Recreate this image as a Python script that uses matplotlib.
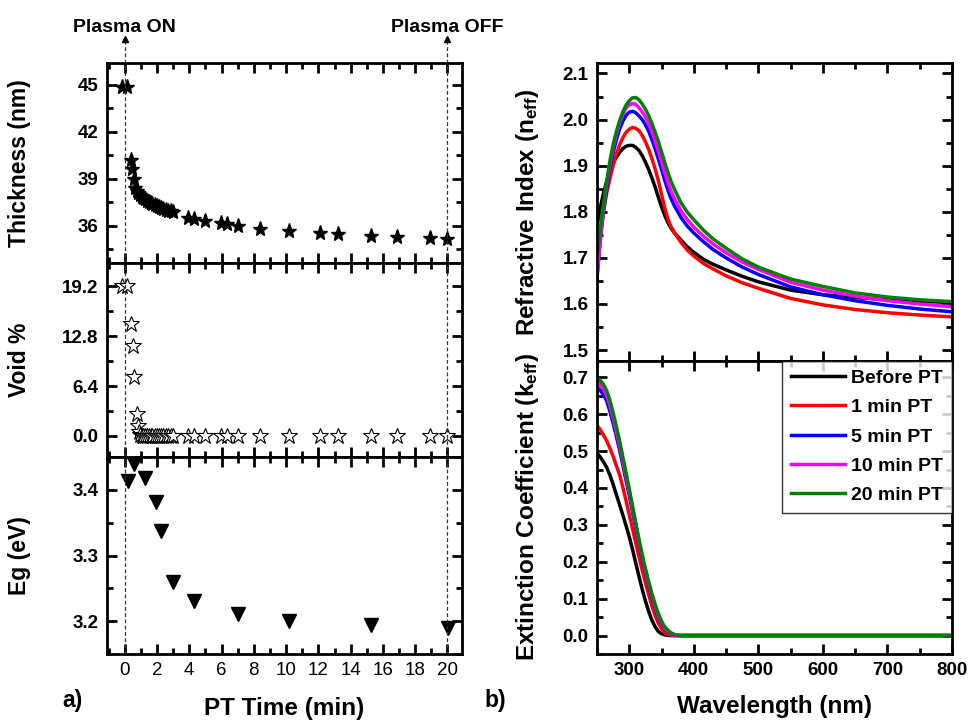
import matplotlib
matplotlib.use('Agg')
import matplotlib.pyplot as plt
from matplotlib.ticker import MultipleLocator, FormatStrFormatter
import matplotlib.transforms as mtransforms

plt.rcParams['font.family'] = ['Liberation Sans', 'DejaVu Sans']
plt.rcParams['font.weight'] = 'bold'
plt.rcParams['axes.labelweight'] = 'bold'
plt.rcParams['mathtext.fontset'] = 'custom'
plt.rcParams['mathtext.rm'] = 'Liberation Sans:bold'
plt.rcParams['mathtext.it'] = 'Liberation Sans:bold'

# --- (a) plasma treatment time series ---
t_thick = [-0.15, 0.15, 0.41, 0.47, 0.56, 0.65, 0.75, 0.85, 0.95, 1.05, 1.15, 1.25, 1.35,
           1.5, 1.6, 1.7, 1.85, 2.0, 2.1, 2.25, 2.4, 2.55, 2.7, 2.85, 3.0,
           3.92, 4.27, 5.0, 5.99, 6.34, 7.02, 8.36, 10.15, 12.07, 13.2, 15.25, 16.9, 18.9, 20.0]
thickness = [44.85, 44.85, 40.17, 39.64, 39.0, 38.4, 38.2, 38.05, 37.95, 37.85, 37.75, 37.7, 37.6,
             37.5, 37.45, 37.4, 37.3, 37.25, 37.2, 37.1, 37.05, 37.0, 36.95, 36.9, 36.85,
             36.51, 36.4, 36.3, 36.13, 36.09, 35.98, 35.79, 35.66, 35.49, 35.43, 35.36, 35.28, 35.21, 35.15]

t_void = [-0.15, 0.15, 0.41, 0.5, 0.6, 0.76, 0.8, 0.87, 0.95, 1.05, 1.15, 1.25, 1.35,
          1.5, 1.6, 1.7, 1.85, 2.0, 2.1, 2.25, 2.4, 2.55, 2.7, 2.85, 3.0,
          3.92, 4.27, 5.0, 5.99, 6.34, 7.02, 8.36, 10.15, 12.07, 13.2, 15.25, 16.9, 18.9, 20.0]
void = [19.3, 19.2, 14.4, 11.5, 7.63, 2.83, 1.29, 0.5, 0.1, 0.0, 0.0, 0.0, 0.0,
        0.0, 0.0, 0.0, 0.0, 0.0, 0.0, 0.0, 0.0, 0.0, 0.0, 0.0, 0.0,
        0.0, 0.0, 0.0, 0.0, 0.0, 0.0, 0.0, 0.0, 0.0, 0.0, 0.0, 0.0, 0.0, 0.0]

t_eg = [0.21, 0.6, 1.28, 1.94, 2.25, 2.97, 4.27, 7.0, 10.15, 15.25, 20.02]
eg = [3.414, 3.439, 3.418, 3.382, 3.337, 3.259, 3.230, 3.211, 3.201, 3.194, 3.190]

# --- (b) optical constants ---
wl_n = [250, 255, 260, 265, 270, 275, 280, 285, 290, 295, 300, 305, 310, 315, 320, 325,
        330, 335, 340, 345, 350, 355, 360, 365, 370, 380, 390, 400, 415, 430, 450, 475,
        500, 550, 600, 650, 700, 750, 800]
n_before = [1.770, 1.808, 1.840, 1.866, 1.888, 1.905, 1.918, 1.929, 1.937, 1.942, 1.944, 1.944,
            1.940, 1.933, 1.922, 1.908, 1.892, 1.874, 1.854, 1.832, 1.811, 1.792, 1.776, 1.764,
            1.754, 1.739, 1.724, 1.712, 1.697, 1.686, 1.674, 1.660, 1.648, 1.630, 1.620, 1.614,
            1.609, 1.606, 1.603]
n_1min = [1.690, 1.752, 1.800, 1.840, 1.872, 1.900, 1.925, 1.945, 1.960, 1.972, 1.979, 1.983,
          1.981, 1.976, 1.966, 1.952, 1.936, 1.916, 1.894, 1.868, 1.838, 1.808, 1.784, 1.767,
          1.755, 1.734, 1.717, 1.704, 1.688, 1.676, 1.661, 1.646, 1.634, 1.612, 1.598, 1.588,
          1.581, 1.576, 1.572]
n_5min = [1.655, 1.735, 1.800, 1.850, 1.893, 1.928, 1.956, 1.979, 1.996, 2.009, 2.016, 2.018,
          2.015, 2.008, 2.000, 1.989, 1.975, 1.957, 1.937, 1.915, 1.892, 1.868, 1.846, 1.828,
          1.813, 1.788, 1.769, 1.754, 1.735, 1.718, 1.700, 1.680, 1.664, 1.637, 1.620, 1.607,
          1.597, 1.589, 1.583]
n_10min = [1.658, 1.740, 1.807, 1.860, 1.902, 1.938, 1.968, 1.992, 2.011, 2.025, 2.032, 2.035,
           2.033, 2.026, 2.017, 2.006, 1.992, 1.974, 1.954, 1.932, 1.909, 1.885, 1.863, 1.844,
           1.829, 1.803, 1.783, 1.767, 1.747, 1.730, 1.711, 1.691, 1.675, 1.647, 1.630, 1.617,
           1.607, 1.600, 1.594]
n_20min = [1.700, 1.762, 1.815, 1.865, 1.910, 1.945, 1.974, 1.997, 2.016, 2.031, 2.041, 2.047,
           2.048, 2.043, 2.034, 2.023, 2.009, 1.992, 1.973, 1.953, 1.930, 1.907, 1.885, 1.865,
           1.849, 1.820, 1.799, 1.783, 1.760, 1.741, 1.721, 1.698, 1.680, 1.654, 1.638, 1.624,
           1.615, 1.609, 1.605]

wl_k = [250, 255, 260, 265, 270, 275, 280, 285, 290, 295, 300, 305, 310, 315, 320, 325,
        330, 335, 340, 345, 350, 355, 360, 365, 370, 375, 380, 390, 400, 500, 600, 700, 800]
k_before = [0.494, 0.484, 0.471, 0.456, 0.435, 0.410, 0.382, 0.355, 0.327, 0.298, 0.268, 0.234,
            0.197, 0.161, 0.126, 0.094, 0.066, 0.042, 0.024, 0.011, 0.005, 0.002, 0.0005, 0.0,
            0.0, 0.0, 0.0, 0.0, 0.0, 0.0, 0.0, 0.0, 0.0]
k_1min = [0.570, 0.558, 0.544, 0.528, 0.508, 0.486, 0.461, 0.436, 0.403, 0.366, 0.328, 0.290,
          0.252, 0.214, 0.178, 0.144, 0.112, 0.081, 0.055, 0.034, 0.018, 0.008, 0.003, 0.001,
          0.0, 0.0, 0.0, 0.0, 0.0, 0.0, 0.0, 0.0, 0.0]
k_5min = [0.673, 0.665, 0.653, 0.636, 0.608, 0.575, 0.540, 0.503, 0.463, 0.421, 0.380, 0.335,
          0.292, 0.250, 0.210, 0.172, 0.138, 0.105, 0.076, 0.051, 0.032, 0.019, 0.010, 0.005,
          0.002, 0.0005, 0.0, 0.0, 0.0, 0.0, 0.0, 0.0, 0.0]
k_10min = [0.688, 0.680, 0.668, 0.651, 0.624, 0.590, 0.553, 0.515, 0.475, 0.432, 0.389, 0.344,
           0.299, 0.256, 0.215, 0.177, 0.142, 0.110, 0.080, 0.055, 0.035, 0.021, 0.012, 0.006,
           0.002, 0.0005, 0.0, 0.0, 0.0, 0.0, 0.0, 0.0, 0.0]
k_20min = [0.698, 0.692, 0.681, 0.664, 0.638, 0.604, 0.567, 0.528, 0.485, 0.441, 0.398, 0.352,
           0.306, 0.262, 0.220, 0.182, 0.147, 0.114, 0.085, 0.060, 0.039, 0.024, 0.014, 0.007,
           0.003, 0.001, 0.0, 0.0, 0.0, 0.0, 0.0, 0.0, 0.0]

labels = ['Before PT', '1 min PT', '5 min PT', '10 min PT', '20 min PT']
colors = ['black', 'red', 'blue', 'magenta', 'green']

fig = plt.figure(figsize=(9.71, 7.27), dpi=100)

ax_t = fig.add_axes([0.1102, 0.6382, 0.3656, 0.2751])
ax_v = fig.add_axes([0.1102, 0.3714, 0.3656, 0.2668])
ax_e = fig.add_axes([0.1102, 0.1004, 0.3656, 0.2710])
ax_n = fig.add_axes([0.6148, 0.5039, 0.3656, 0.4090])
ax_k = fig.add_axes([0.6148, 0.1004, 0.3656, 0.4035])


def style(ax):
    for s in ax.spines.values():
        s.set_linewidth(2)
    ax.tick_params(which='both', direction='in', top=True, right=True, width=2)
    ax.tick_params(which='major', length=7, labelsize=13.5, pad=6)
    ax.tick_params(which='minor', length=4)


ax_t.plot(t_thick, thickness, linestyle='none', marker='*', color='black', markersize=11)
ax_v.plot(t_void, void, linestyle='none', marker='*', markerfacecolor='white',
          markeredgecolor='black', markeredgewidth=0.8, markersize=12)
ax_e.plot(t_eg, eg, linestyle='none', marker='v', color='black', markersize=10)

for ax in (ax_t, ax_v, ax_e):
    style(ax)
    ax.set_xlim(-1.1, 20.9)
    ax.xaxis.set_major_locator(MultipleLocator(2))
    ax.xaxis.set_minor_locator(MultipleLocator(1))
    ax.axvline(0, color='#333333', linestyle='--', linewidth=0.9, dashes=(3, 2))
    ax.axvline(20, color='#333333', linestyle='--', linewidth=0.9, dashes=(3, 2))
    ax.yaxis.set_label_coords(-0.215, 0.5)
    if ax is not ax_e:
        ax.tick_params(axis='x', labelbottom=False)

ax_t.set_ylim(33.6, 46.4)
ax_t.yaxis.set_major_locator(MultipleLocator(3))
ax_t.yaxis.set_minor_locator(MultipleLocator(1.5))
ax_t.set_ylabel('Thickness (nm)', fontsize=16.5)

ax_v.set_ylim(-2.7, 22.2)
ax_v.yaxis.set_major_locator(MultipleLocator(6.4))
ax_v.yaxis.set_minor_locator(MultipleLocator(3.2))
ax_v.yaxis.set_major_formatter(FormatStrFormatter('%.1f'))
ax_v.set_ylabel('Void %', fontsize=16.5)

ax_e.set_ylim(3.15, 3.45)
ax_e.yaxis.set_major_locator(MultipleLocator(0.1))
ax_e.yaxis.set_minor_locator(MultipleLocator(0.05))
ax_e.yaxis.set_major_formatter(FormatStrFormatter('%.1f'))
ax_e.set_ylabel('Eg (eV)', fontsize=16.5)
ax_e.set_xlabel('PT Time (min)', fontsize=17.5, labelpad=13)
for lab in ax_e.get_xticklabels():
    lab.set_fontweight('normal')

# plasma on/off markers above the top panel
trans = mtransforms.blended_transform_factory(ax_t.transData, ax_t.transAxes)
for xv, txt in [(0, 'Plasma ON'), (20, 'Plasma OFF')]:
    ax_t.plot([xv, xv], [1.0, 1.115], transform=trans, color='#333333', linestyle='--',
              linewidth=0.9, dashes=(3, 2), clip_on=False)
    ax_t.plot([xv], [1.12], transform=trans, marker='^', color='black', markersize=5, clip_on=False)
    ax_t.text(xv, 1.18, txt, transform=trans, ha='center', va='center', fontsize=14)

for ys, c, lab in zip([n_before, n_1min, n_5min, n_10min, n_20min], colors, labels):
    ax_n.plot(wl_n, ys, color=c, linewidth=2.5, label=lab)
for ys, c, lab in zip([k_before, k_1min, k_5min, k_10min, k_20min], colors, labels):
    ax_k.plot(wl_k, ys, color=c, linewidth=2.5, label=lab)

for ax in (ax_n, ax_k):
    style(ax)
    ax.set_xlim(250, 800)
    ax.xaxis.set_major_locator(MultipleLocator(100))
    ax.xaxis.set_minor_locator(MultipleLocator(50))
    ax.yaxis.set_major_locator(MultipleLocator(0.1))
    ax.yaxis.set_minor_locator(MultipleLocator(0.05))
    ax.yaxis.set_major_formatter(FormatStrFormatter('%.1f'))
    ax.yaxis.set_label_coords(-0.158, 0.5)

ax_n.tick_params(axis='x', labelbottom=False)
ax_n.set_ylim(1.477, 2.122)
ax_n.set_ylabel('Refractive Index (n$_{eff}$)', fontsize=17.5)

ax_k.set_ylim(-0.05, 0.745)
ax_k.set_ylabel('Extinction Coefficient (k$_{eff}$)', fontsize=17.5)
ax_k.set_xlabel('Wavelength (nm)', fontsize=17.5, labelpad=11)

leg = ax_k.legend(loc='upper right', fontsize=14, frameon=True, fancybox=False,
                  edgecolor='black', borderaxespad=0, handlelength=2.8,
                  handletextpad=0.3, labelspacing=0.6, borderpad=0.45)
leg.get_frame().set_linewidth(1)

fig.text(0.064, 0.037, 'a)', fontsize=16.5, ha='left', va='center')
fig.text(0.499, 0.037, 'b)', fontsize=16.5, ha='left', va='center')

plt.savefig('out.png', dpi=100)
